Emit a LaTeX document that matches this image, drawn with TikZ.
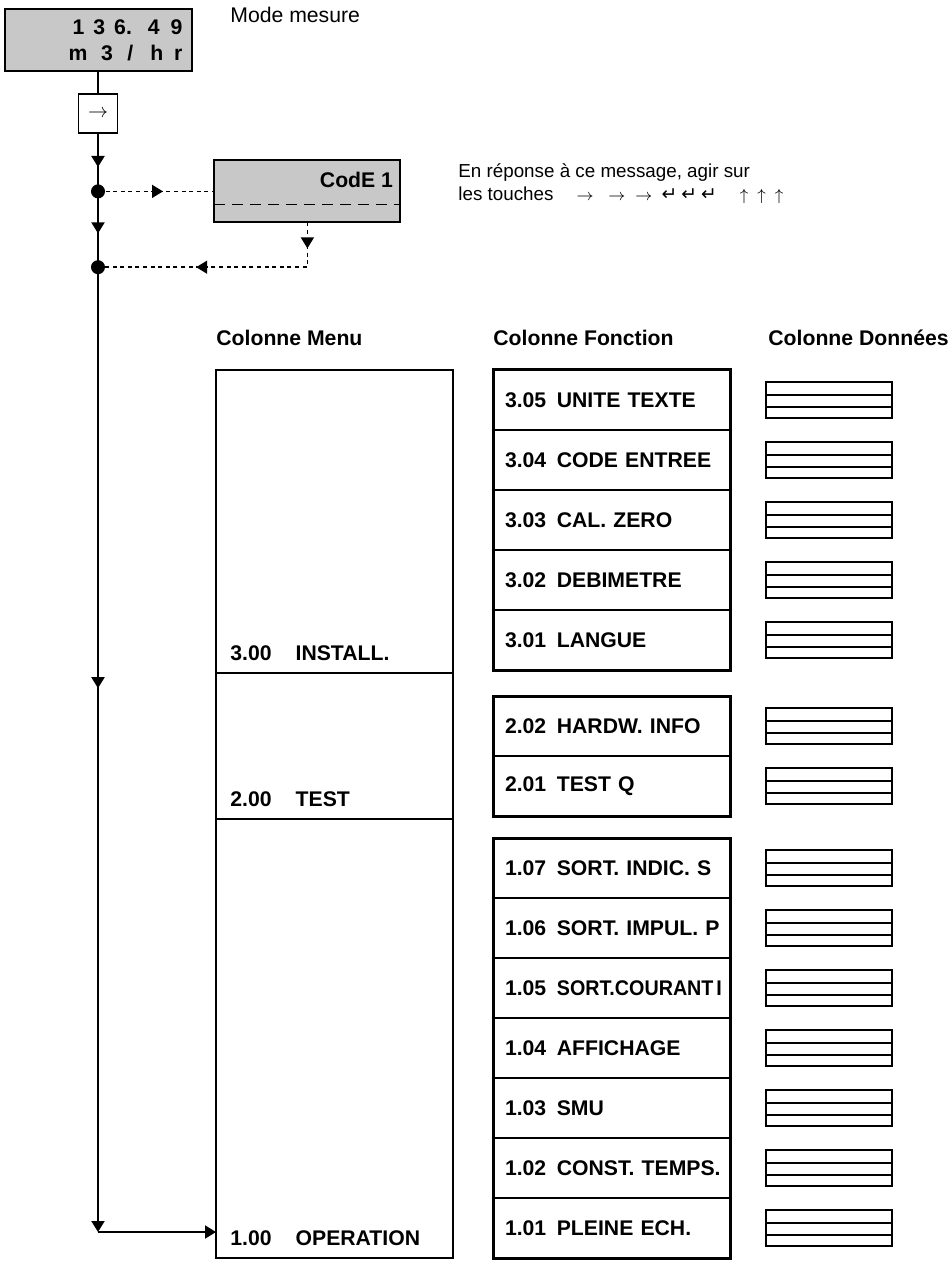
\documentclass[tikz,border=0pt]{standalone}
\usepackage{fontspec}
\setmainfont{Liberation Sans}
\newfontfamily\arrowfont{DejaVu Sans}
\usepackage{graphicx}
\usetikzlibrary{arrows.meta, positioning, fit, decorations.markings}
\usepackage{xcolor}
\definecolor{lcdgray}{RGB}{200,200,200}
\newcommand{\labfont}{\fontsize{10.6}{12.7}\selectfont\bfseries}
\newcommand{\keyright}{{\fontsize{8}{8}\selectfont$\rightarrow$}}
\newcommand{\keyup}{{\fontsize{8.5}{8.5}\selectfont$\uparrow$}}

\begin{document}
\begin{tikzpicture}[
  x=0.5pt, y=-0.5pt,
  lcd/.style={rectangle, draw, line width=1pt, fill=lcdgray, minimum width=93pt, minimum height=31pt, outer sep=0pt},
  keybox/.style={rectangle, draw, line width=0.8pt, minimum size=19.5pt, inner sep=0pt, outer sep=0pt},
  dot/.style={circle, fill, inner sep=0pt, minimum size=7pt},
  menubox/.style={rectangle, draw, line width=1pt, minimum width=118.5pt, inner sep=0pt, outer sep=0pt},
  frow/.style={rectangle, draw, line width=0.8pt, minimum width=118.5pt, minimum height=30pt, text width=112.5pt, inner xsep=3pt, inner ysep=0pt, align=left, outer sep=0pt, font=\labfont, execute at begin node={\hspace*{3pt}}},
  grpframe/.style={draw, line width=1.5pt, inner sep=0pt},
  databox/.style={rectangle, draw, line width=1pt, minimum width=63pt, minimum height=18pt, inner sep=0pt, outer sep=0pt,
    path picture={\draw[line width=0.8pt] ([yshift=-6.5pt]path picture bounding box.north west) -- ([yshift=-6.5pt]path picture bounding box.north east)
      ([yshift=5.5pt]path picture bounding box.south west) -- ([yshift=5.5pt]path picture bounding box.south east);}},
  header/.style={font=\labfont, inner sep=0pt},
  menulabel/.style={font=\labfont, inner sep=0pt},
  note/.style={inner sep=0pt, align=left},
  flow/.style={line width=1pt},
  dline/.style={line width=0.8pt, dash pattern=on 2pt off 1.8pt},
  tipat/.style={postaction={decorate, decoration={markings, mark=at position #1 with {\arrow{Triangle[length=5.5pt, width=6.5pt]}}}}},
]
  \useasboundingbox (0,0) rectangle (951,1261);

  % Measuring display and code entry
  \node[lcd, text width=84.5pt, inner xsep=4.5pt, align=right, font=\fontsize{10.6}{13}\selectfont\bfseries] (disp) at (98,40)
    {1\hspace{4.5pt}3\hspace{4.5pt}6.\hspace{8pt}4\hspace{5.5pt}9\\m\hspace{6.8pt}3\hspace{7.3pt}/\hspace{8.5pt}h\hspace{5.5pt}r};
  \node[note, font=\fontsize{10.6}{12.7}\selectfont, anchor=base west] (modetxt) at (230,23) {Mode mesure};
  \node[keybox, below=11.5pt of disp] (key) {$\rightarrow$};
  \node[dot, below=25.5pt of key] (dot1) {};
  \node[dot, below=30.5pt of dot1] (dot2) {};
  \node[lcd, right=54.5pt of dot1] (code) {};
  \node[font=\labfont, inner sep=0pt, anchor=east] (codetxt) at ([xshift=-3.5pt, yshift=5.5pt]code.east) {CodE 1};
  \draw[line width=0.8pt, dash pattern=on 5.5pt off 3.5pt] ([yshift=9pt]code.south west) -- ([yshift=9pt]code.south east);
  \node[note, font=\fontsize{9.4}{11.5}\selectfont, anchor=base west] (hint) at (458,201)
    {En réponse à ce message, agir sur\\les touches\hspace{11.5pt}\keyright\hspace{7.5pt}\keyright\hspace{5pt}\keyright\hspace{4.5pt}{\arrowfont ↵\hspace{2pt}↵\hspace{2pt}↵}\hspace{11.5pt}\keyup\hspace{4.5pt}\keyup\hspace{4.5pt}\keyup};

  % Menu column
  \node[menubox, minimum height=151.35pt, anchor=north west] (install) at (216,370) {};
  \node[menubox, minimum height=73.15pt, below=0pt of install] (test) {};
  \node[menubox, minimum height=219.5pt, below=0pt of test] (oper) {};
  \node[menulabel, above right=6pt and 7pt of install.south west] (installtxt) {3.00\hspace{12pt}INSTALL.};
  \node[menulabel, above right=6pt and 7pt of test.south west] (testtxt) {2.00\hspace{12pt}TEST};
  \node[menulabel, above right=6pt and 7pt of oper.south west] (opertxt) {1.00\hspace{12pt}OPERATION};
  \coordinate (corner) at (98,1232);

  % Function column
  \node[frow, anchor=north west] (f305) at (493,370) {3.05\enspace UNITE TEXTE};
  \node[frow, below=0pt of f305] (f304) {3.04\enspace CODE ENTREE};
  \node[frow, below=0pt of f304] (f303) {3.03\enspace CAL. ZERO};
  \node[frow, below=0pt of f303] (f302) {3.02\enspace DEBIMETRE};
  \node[frow, below=0pt of f302] (f301) {3.01\enspace LANGUE};
  \node[frow, below=13pt of f301] (f202) {2.02\enspace HARDW. INFO};
  \node[frow, below=0pt of f202] (f201) {2.01\enspace TEST Q};
  \node[frow, below=11pt of f201] (f107) {1.07\enspace SORT. INDIC. S};
  \node[frow, below=0pt of f107] (f106) {1.06\enspace SORT. IMPUL. P};
  \node[frow, below=0pt of f106] (f105) {1.05\enspace \scalebox{0.93}[1]{SORT.COURANT\hspace{1.5pt}I}};
  \node[frow, below=0pt of f105] (f104) {1.04\enspace AFFICHAGE};
  \node[frow, below=0pt of f104] (f103) {1.03\enspace SMU};
  \node[frow, below=0pt of f103] (f102) {1.02\enspace CONST. TEMPS.};
  \node[frow, below=0pt of f102] (f101) {1.01\enspace PLEINE ECH.};
  \node[grpframe, fit=(f305)(f301)] (grp3) {};
  \node[grpframe, fit=(f202)(f201)] (grp2) {};
  \node[grpframe, fit=(f107)(f101)] (grp1) {};

  % Data column
  \node[databox, right=18pt of f305] (d305) {};
  \node[databox, right=18pt of f304] (d304) {};
  \node[databox, right=18pt of f303] (d303) {};
  \node[databox, right=18pt of f302] (d302) {};
  \node[databox, right=18pt of f301] (d301) {};
  \node[databox, right=18pt of f202] (d202) {};
  \node[databox, right=18pt of f201] (d201) {};
  \node[databox, right=18pt of f107] (d107) {};
  \node[databox, right=18pt of f106] (d106) {};
  \node[databox, right=18pt of f105] (d105) {};
  \node[databox, right=18pt of f104] (d104) {};
  \node[databox, right=18pt of f103] (d103) {};
  \node[databox, right=18pt of f102] (d102) {};
  \node[databox, right=18pt of f101] (d101) {};

  % Headers
  \node[header, above right=12pt and 0pt of install.north west] (hmenu) {Colonne Menu};
  \node[header, above right=12pt and 0pt of f305.north west] (hfunc) {Colonne Fonction};
  \node[header, above right=18pt and 1pt of d305.north west] (hdata) {Colonne Données};

  % Flow
  \draw[flow] (disp) -- (key);
  \draw[flow, tipat=17pt] (key) -- (dot1.center);
  \draw[flow, tipat=21pt] (dot1.center) -- (dot2.center);
  \draw[flow, tipat=210.5pt, -{Triangle[length=5.5pt, width=6.5pt]}] (dot2.center) -- (corner);
  \draw[flow, -{Triangle[length=5.5pt, width=6.5pt]}] (corner) -- (corner -| oper.west);
  \draw[dline, tipat=32.5pt] (dot1.center) -- (code);
  \draw[dline, tipat=13pt, tipat=78pt] (code.south) |- (dot2.center);
\end{tikzpicture}
\end{document}
